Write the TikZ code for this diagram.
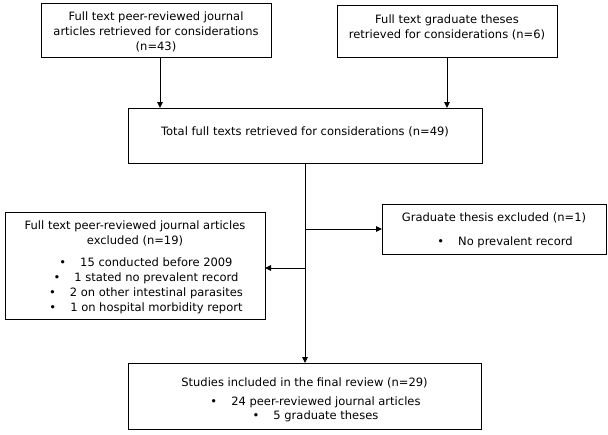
\documentclass[tikz,border=0pt]{standalone}
\usepackage{fontspec}
\setmainfont{DejaVu Sans}
\usetikzlibrary{arrows.meta}
\newcommand{\bxt}[4]{\parbox[c][#2][t]{#1}{\centering\rule{0pt}{#3}#4}}
\newcommand{\bl}[1]{\hspace*{22pt}\textbullet\hspace{14pt}#1}
\begin{document}
\begin{tikzpicture}[x=1pt,y=-1pt,
  box/.style={draw=black,line width=1pt,inner sep=0pt,outer sep=0pt,
    font=\fontsize{11.5}{15}\selectfont},
  arr/.style={draw=black,line width=1pt,-{Triangle[length=6pt,width=5.5pt]}}]
\useasboundingbox[fill=white] (0,0) rectangle (608,434);
\node[box] (b1) at (156,30) {\bxt{230pt}{54pt}{17pt}{Full text peer-reviewed journal\\articles retrieved for considerations\\(n=43)}};
\node[box] (b2) at (447,31) {\bxt{220pt}{52pt}{18pt}{Full text graduate theses\\retrieved for considerations (n=6)}};
\node[box] (b3) at (305,135.5) {\bxt{354pt}{55pt}{27pt}{Total full texts retrieved for considerations (n=49)}};
\node[box] (lb) at (135,265.5) {\bxt{260pt}{107pt}{17pt}{Full text peer-reviewed journal articles\\excluded (n=19)\\[7pt]
  \bl{15 conducted before 2009}\\\bl{1 stated no prevalent record}\\\bl{2 on other intestinal parasites}\\\bl{1 on hospital morbidity report}}};
\node[box] (rb) at (494,229) {\bxt{224pt}{50pt}{17pt}{Graduate thesis excluded (n=1)\\[9pt]\bl{No prevalent record}}};
\node[box] (b5) at (304.5,396) {\bxt{353pt}{66pt}{23pt}{Studies included in the final review (n=29)\\[4pt]
  \bl{24 peer-reviewed journal articles}\\[-1pt]\bl{5 graduate theses}}};
\coordinate (le) at ([yshift=-2.5pt]lb.east);
\coordinate (ls) at ([xshift=4pt]b1.south);
\draw[arr] (ls) -- (ls |- b3.north);
\draw[arr] (b2.south) -- (b2.south |- b3.north);
\draw[arr] (b3.south) -- (b3.south |- b5.north);
\draw[arr] (b3.south |- rb.west) -- (rb.west);
\draw[arr] (b3.south |- le) -- (le);
\end{tikzpicture}
\end{document}
